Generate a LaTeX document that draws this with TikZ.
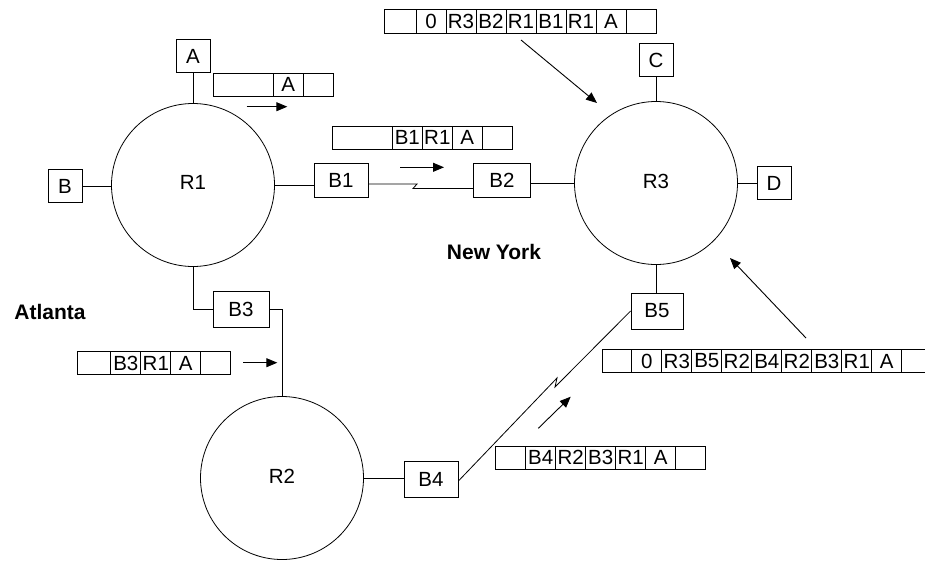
\documentclass[tikz,border=0pt]{standalone}
\usepackage{fontspec}
\setmainfont{Liberation Sans}
\usetikzlibrary{arrows.meta,positioning}

% cells of a packet, laid out left to right
\newcommand{\paquete}[5]{%
  \node[celda, minimum width=#4, anchor=west] (#1-0) at (#2,#3) {};
  \foreach \t [count=\i, evaluate=\i as \j using int(\i-1)] in {#5} {
    \node[celda, right=0pt of #1-\j] (#1-\i) {\t};
  }
}

\begin{document}
\begin{tikzpicture}[
    x=1pt, y=-1pt,
    font=\fontsize{20.5}{23}\selectfont,
    line width=0.8pt,
    arr/.style={-{Triangle[length=11pt,width=9pt]}, line width=0.9pt},
    router/.style={circle, draw, minimum size=163pt, inner sep=0pt},
    host/.style={draw, minimum width=34pt, minimum height=33pt, inner sep=1pt},
    puente/.style={draw, minimum width=54pt, minimum height=34pt, inner sep=1pt},
    celda/.style={draw, minimum width=30pt, minimum height=23.5pt,
      inner sep=0pt, outer sep=0pt},
    sitio/.style={font=\fontsize{21}{23}\selectfont\bfseries}
  ]
    \useasboundingbox (0,0) rectangle (925,560);

    % --- Routers ---
    \node[router] (R1) at (193,185) {\raisebox{5pt}{R1}};
    \node[router] (R3) at (656,183) {\raisebox{3pt}{R3}};
    \node[router] (R2) at (282,478) {\raisebox{3pt}{R2}};

    % --- Hosts ---
    \node[host] (A) at (193,56) {A};
    \node[host] (B) at (65,186) {B};
    \node[host] (C) at (656,60) {C};
    \node[host] (D) at (774,183) {D};

    % --- Bridges ---
    \node[puente] (B1) at (341,180) {B1};
    \node[puente, minimum width=57pt] (B2) at (502,180) {B2};
    \node[puente, minimum width=56pt, minimum height=36pt] (B3) at (241,309) {B3};
    \node[puente, minimum height=36pt] (B4) at (431,479) {B4};
    \node[puente, minimum width=52pt, minimum height=36pt] (B5) at (657,311) {B5};

    % --- Sites ---
    \node[sitio] (atl) at (50,312) {Atlanta};
    \node[sitio] (ny) at (494,252) {New York};

    % --- Links ---
    \draw (A.south) -- (R1.north);
    \draw (B.east) -- (B.east -| R1.west);
    \draw (R1.east) -- (R1.east -| B1.west);
    \draw (R3.north) -- (C.south);
    \draw (R3.east) -- (D.west);
    \draw (R3.south) -- (R3.south |- B5.north);
    \draw (B2.east |- R3.west) -- (R3.west);
    \draw (R1.south) |- (B3.west);
    \draw (B3.east) -| (R2.north);
    \draw (R2.east) -- (R2.east -| B4.west);

    % --- Serial lines (with break) ---
    \coordinate (z1) at (417,184);
    \coordinate (z2) at (413,188.5);
    \draw (B1.east |- z1) -- (z1) -- (z2) -- (B2.west |- z2);
    \coordinate (z3) at (557,378);
    \coordinate (z4) at (555,387);
    \coordinate (b4o) at ([yshift=-2pt]B4.east);
    \draw (b4o) -- (z3) -- (z4) -- (B5.west);

    % --- Packets ---
    \paquete{p0}{384}{21.3}{32pt}{0,R3,B2,R1,B1,R1,A,{}}
    \paquete{pa}{213.3}{84.7}{60pt}{A,{}}
    \paquete{pb}{332.3}{137.7}{60pt}{B1,R1,A,{}}
    \paquete{pc}{77.3}{363}{33.5pt}{B3,R1,A,{}}
    \paquete{pd}{602.3}{361}{29.5pt}{0,R3,B5,R2,B4,R2,B3,R1,A,{}}
    \paquete{pe}{495.7}{457.7}{30pt}{B4,R2,B3,R1,A,{}}

    % --- Direction arrows ---
    \coordinate (a1) at (246.7,106.7);
    \coordinate (a1e) at (287.3,106.7);
    \coordinate (a2) at (400,167.3);
    \coordinate (a2e) at (444,167.3);
    \coordinate (a3) at (243.3,362.7);
    \coordinate (a3e) at (277.3,362.7);
    \coordinate (a4) at (538.3,428.3);
    \coordinate (a4e) at (570.7,396.7);
    \coordinate (a5) at (521,40);
    \coordinate (a5e) at (597,103);
    \coordinate (a6) at (806,338);
    \coordinate (a6e) at (730,258);
    \draw[arr] (a1) -- (a1e);
    \draw[arr] (a2) -- (a2e);
    \draw[arr] (a3) -- (a3e);
    \draw[arr] (a4) -- (a4e);
    \draw[arr] (a5) -- (a5e);
    \draw[arr] (a6) -- (a6e);
\end{tikzpicture}
\end{document}
